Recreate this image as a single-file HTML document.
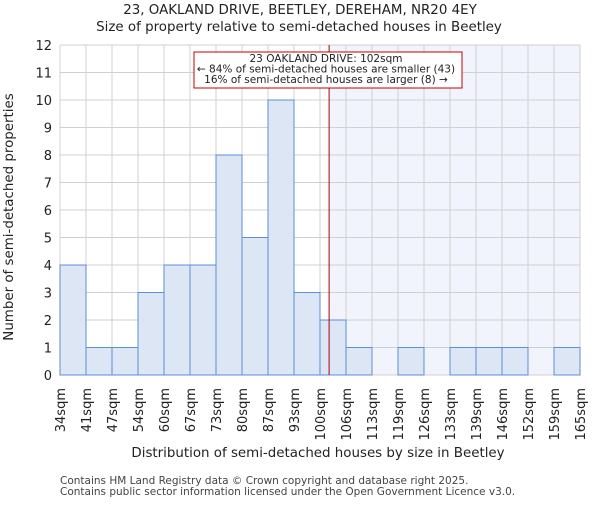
<!DOCTYPE html>
<html><head><meta charset="utf-8"><style>
body{margin:0;background:#fff}
svg{font-family:"DejaVu Sans","Liberation Sans",sans-serif}
</style></head><body>
<svg id="c" width="600" height="500" viewBox="0 0 600 500" xmlns="http://www.w3.org/2000/svg">
<text x="300" y="14" font-size="13.4" text-anchor="middle" fill="#222">23, OAKLAND DRIVE, BEETLEY, DEREHAM, NR20 4EY</text>
<text x="299" y="31" font-size="13.4" text-anchor="middle" fill="#222">Size of property relative to semi-detached houses in Beetley</text>
<g id="plot"></g>
<text x="318" y="457" font-size="13.4" text-anchor="middle" fill="#222">Distribution of semi-detached houses by size in Beetley</text>
<text transform="translate(13,217) rotate(-90)" font-size="13.4" text-anchor="middle" fill="#222">Number of semi-detached properties</text>
<text x="60" y="484" font-size="10.5" fill="#444">Contains HM Land Registry data © Crown copyright and database right 2025.</text>
<text x="60" y="495" font-size="10.5" fill="#444">Contains public sector information licensed under the Open Government Licence v3.0.</text>
</svg>
<script>
const binLabels=["34sqm","41sqm","47sqm","54sqm","60sqm","67sqm","73sqm","80sqm","87sqm","93sqm","100sqm","106sqm","113sqm","119sqm","126sqm","133sqm","139sqm","146sqm","152sqm","159sqm","165sqm"];
const counts=[4,1,1,3,4,4,8,5,10,3,2,1,0,1,0,1,1,1,0,1];
const yTicks=[0,1,2,3,4,5,6,7,8,9,10,11,12];
const propertyBinPos=[10.35];
const NS="http://www.w3.org/2000/svg";
const g=document.getElementById('plot');
const L=60,R=580,T=45,B=375,yMax=12;
const nb=counts.length;
const x=i=>L+(R-L)*i/nb;
const y=v=>B-(B-T)*v/yMax;
function mk(t,a){const e=document.createElementNS(NS,t);for(const k in a)e.setAttribute(k,a[k]);g.appendChild(e);return e;}
const px=x(propertyBinPos[0]);
let e=mk('rect',{x:px,y:T,width:R-px,height:B-T,fill:'#f1f4fc'});


for(let i=0;i<=nb;i++){e=mk('line',{x1:x(i),x2:x(i),y1:T,y2:B,stroke:'#d0d0d0','stroke-width':1});

}
yTicks.forEach(v=>{e=mk('line',{x1:L,x2:R,y1:y(v),y2:y(v),stroke:'#d0d0d0','stroke-width':1});


e=mk('text',{x:L-8,y:y(v)+5,'font-size':13,'text-anchor':'end',fill:'#222'});e.textContent=v;

});
counts.forEach((c,i)=>{if(c<=0)return;e=mk('rect',{x:x(i),y:y(c),width:x(i+1)-x(i),height:y(0)-y(c),fill:'#dde6f4',stroke:'#5b8fd6','stroke-width':1});

});
binLabels.forEach((l,i)=>{e=mk('text',{transform:`translate(${x(i)+5},${388}) rotate(-90)`,'font-size':13,'text-anchor':'end',fill:'#222'});e.textContent=l;

});
e=mk('line',{x1:px,x2:px,y1:T,y2:B,stroke:'#b00000','stroke-width':1});


e=mk('rect',{x:194,y:52,width:268,height:36,fill:'#fff',stroke:'#c00000','stroke-width':1});


["23 OAKLAND DRIVE: 102sqm","← 84% of semi-detached houses are smaller (43)","16% of semi-detached houses are larger (8) →"].forEach((t,k)=>{e=mk('text',{x:326,y:62+k*10.5,'font-size':10.5,'text-anchor':'middle',fill:'#222'});e.textContent=t;

});
</script>
</body></html>
